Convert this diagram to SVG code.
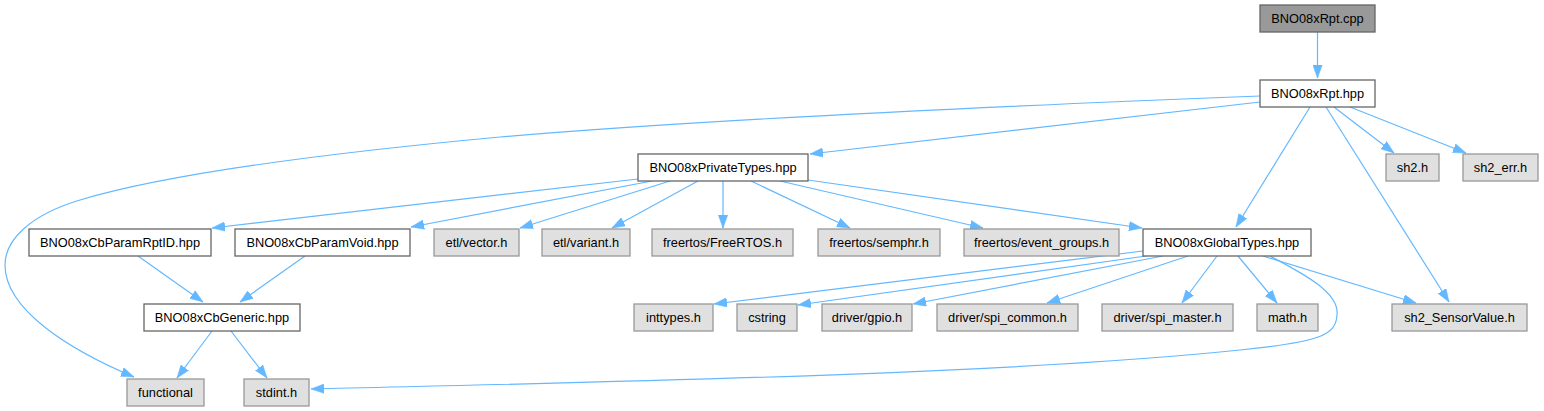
<svg xmlns="http://www.w3.org/2000/svg" width="1544" height="411" viewBox="0 0 1544 411">
<style>
  .n rect{fill:#ffffff;stroke:#666666;stroke-width:1.3}
  .h rect{fill:#e0e0e0;stroke:#999999;stroke-width:1.3}
  .r rect{fill:#999999;stroke:#666666;stroke-width:1.3}
  text{font-family:"Liberation Sans",Arial,sans-serif;font-size:12.8px;fill:#000000;text-anchor:middle}
  #edges path{fill:none;stroke:#63b8ff;stroke-width:1.2;marker-end:url(#arr)}
</style>
<defs>
  <marker id="arr" viewBox="0 0 13 10" refX="13" refY="5" markerWidth="13" markerHeight="10" markerUnits="userSpaceOnUse" orient="auto">
    <path d="M0,0.3 L13,5 L0,9.7 z" fill="#63b8ff" stroke="#63b8ff" stroke-width="0.5"/>
  </marker>
</defs>
<rect width="1544" height="411" fill="#ffffff"/>
<g id="edges">
  <path d="M1317.5,32 L1317.5,78"/>
  <path d="M1260,96 C1000,106 700,120 500,137 C360,150 180,170 80,200 C30,215 5,240 5,265 C5,310 70,350 134,377"/>
  <path d="M1260,102 L810,154"/>
  <path d="M1310,107 L1236,227"/>
  <path d="M1326,107 L1449,302"/>
  <path d="M1334,107 L1394,153"/>
  <path d="M1350,107 L1466,153"/>
  <path d="M638,179 L212,228"/>
  <path d="M652,181 L411,227"/>
  <path d="M670,181 L520,228"/>
  <path d="M698,181 L612,228"/>
  <path d="M723,181 L723,228"/>
  <path d="M751,181 L850,228"/>
  <path d="M780,181 L983,228"/>
  <path d="M808,180 L1142,228"/>
  <path d="M138,256 L203,302"/>
  <path d="M305,256 L240,302"/>
  <path d="M212,331 L177,378"/>
  <path d="M231,331 L267,378"/>
  <path d="M1143,251 L714,304"/>
  <path d="M1146,256 L798,305"/>
  <path d="M1163,256 L913,304"/>
  <path d="M1188,256 L1047,303"/>
  <path d="M1217,256 L1182,303"/>
  <path d="M1238,256 L1277,303"/>
  <path d="M1263,256 L1416,303"/>
  <path d="M1270,256 C1300,272 1340,292 1337,315 C1336,335 1320,342 1240,350 C1000,375 600,382 311,389"/>
</g>
<g id="node_cpp" class="r"><rect x="1260" y="5" width="115" height="27"/><text x="1317.5" y="23">BNO08xRpt.cpp</text></g>
<g id="node_rpt" class="n"><rect x="1260" y="80" width="115" height="27"/><text x="1317.5" y="98">BNO08xRpt.hpp</text></g>
<g id="node_sh2" class="h"><rect x="1386" y="154" width="53" height="27"/><text x="1412.5" y="172">sh2.h</text></g>
<g id="node_sh2err" class="h"><rect x="1463" y="154" width="75" height="27"/><text x="1500.5" y="172">sh2_err.h</text></g>
<g id="node_priv" class="n"><rect x="638" y="154" width="170" height="27"/><text x="723" y="172">BNO08xPrivateTypes.hpp</text></g>
<g id="node_rptid" class="n"><rect x="29" y="229" width="182" height="27"/><text x="120" y="247">BNO08xCbParamRptID.hpp</text></g>
<g id="node_void" class="n"><rect x="235" y="229" width="175" height="27"/><text x="322.5" y="247">BNO08xCbParamVoid.hpp</text></g>
<g id="node_vector" class="h"><rect x="434" y="229" width="85" height="27"/><text x="476.5" y="247">etl/vector.h</text></g>
<g id="node_variant" class="h"><rect x="542" y="229" width="88" height="27"/><text x="586" y="247">etl/variant.h</text></g>
<g id="node_freertos" class="h"><rect x="652" y="229" width="141" height="27"/><text x="722.5" y="247">freertos/FreeRTOS.h</text></g>
<g id="node_semphr" class="h"><rect x="818" y="229" width="122" height="27"/><text x="879" y="247">freertos/semphr.h</text></g>
<g id="node_evgrp" class="h"><rect x="964" y="229" width="155" height="27"/><text x="1041.5" y="247">freertos/event_groups.h</text></g>
<g id="node_global" class="n"><rect x="1143" y="229" width="168" height="27"/><text x="1227" y="247">BNO08xGlobalTypes.hpp</text></g>
<g id="node_generic" class="n"><rect x="144" y="304" width="156" height="27"/><text x="222" y="322">BNO08xCbGeneric.hpp</text></g>
<g id="node_inttypes" class="h"><rect x="634" y="304" width="79" height="27"/><text x="673.5" y="322">inttypes.h</text></g>
<g id="node_cstring" class="h"><rect x="737" y="304" width="60" height="27"/><text x="767" y="322">cstring</text></g>
<g id="node_gpio" class="h"><rect x="822" y="304" width="90" height="27"/><text x="867" y="322">driver/gpio.h</text></g>
<g id="node_spicommon" class="h"><rect x="937" y="304" width="141" height="27"/><text x="1007.5" y="322">driver/spi_common.h</text></g>
<g id="node_spimaster" class="h"><rect x="1102" y="304" width="131" height="27"/><text x="1167.5" y="322">driver/spi_master.h</text></g>
<g id="node_math" class="h"><rect x="1257" y="304" width="61" height="27"/><text x="1287.5" y="322">math.h</text></g>
<g id="node_sensorvalue" class="h"><rect x="1392" y="304" width="135" height="27"/><text x="1459.5" y="322">sh2_SensorValue.h</text></g>
<g id="node_functional" class="h"><rect x="127" y="379" width="77" height="27"/><text x="165.5" y="397">functional</text></g>
<g id="node_stdint" class="h"><rect x="244" y="379" width="65" height="27"/><text x="276.5" y="397">stdint.h</text></g>
</svg>
